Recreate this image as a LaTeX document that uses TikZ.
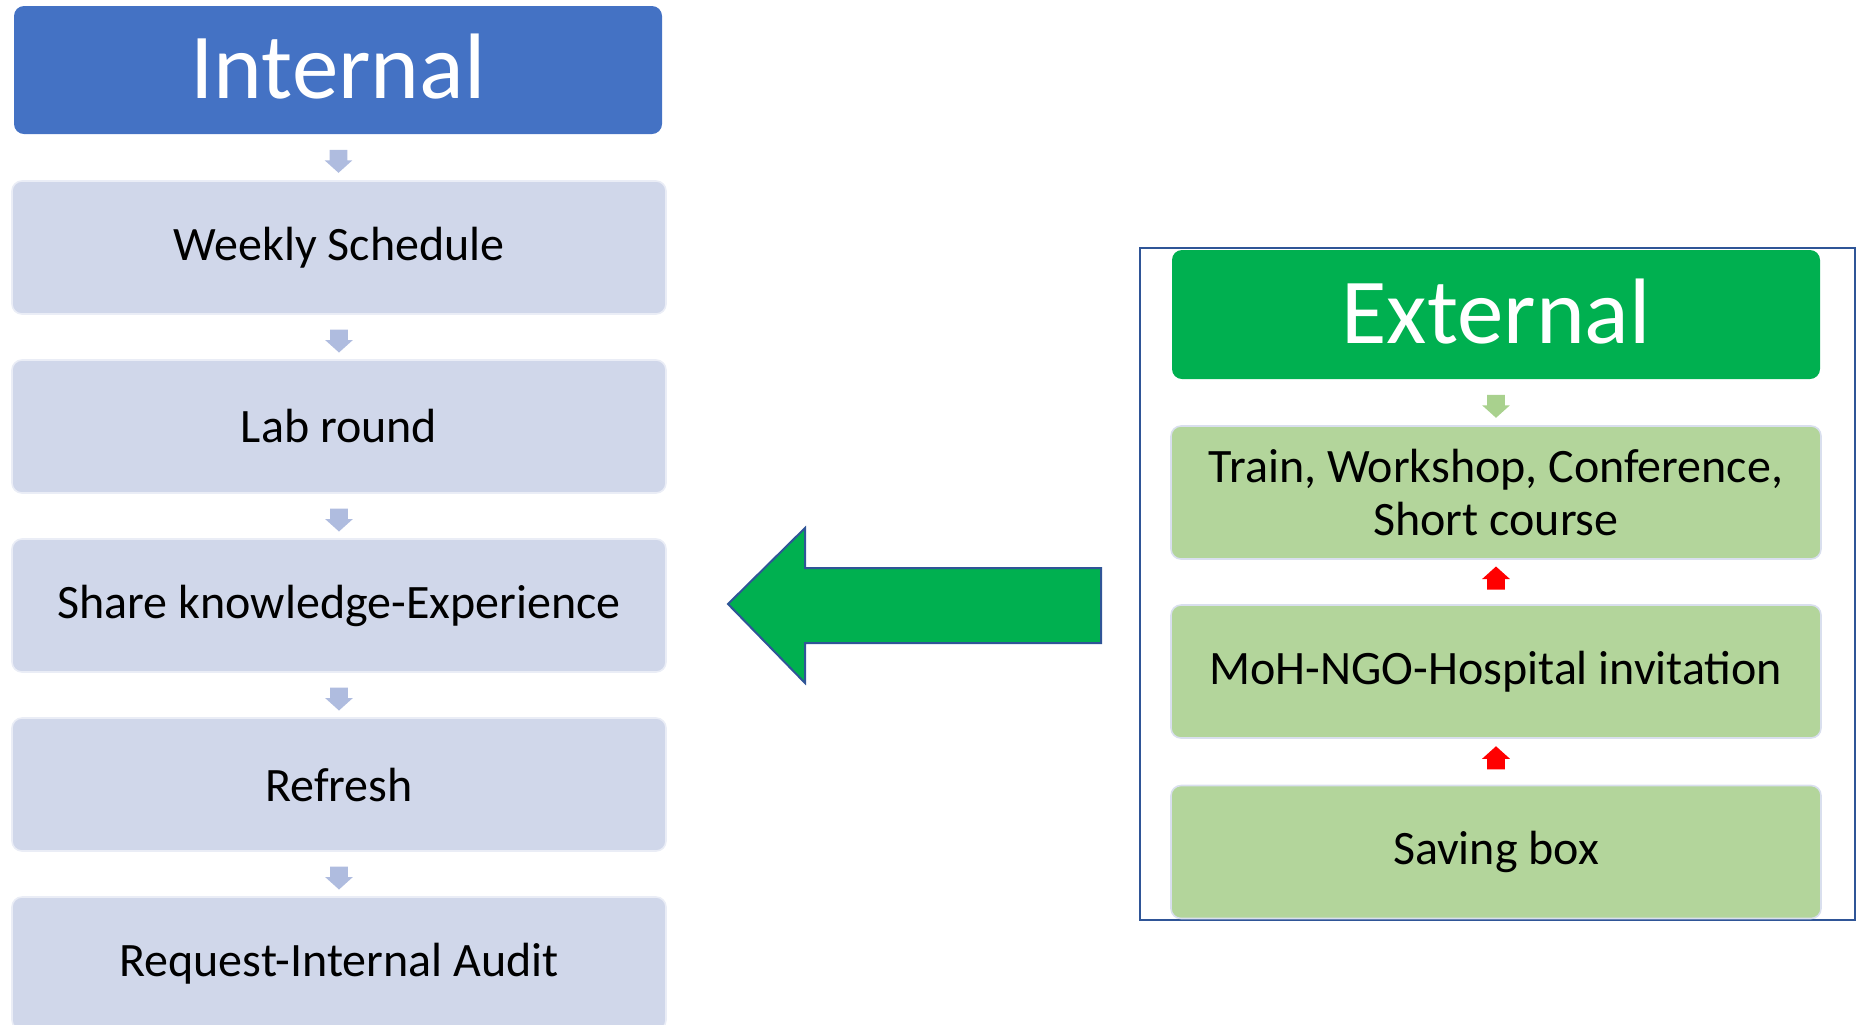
\documentclass[tikz,border=0pt]{standalone}
\usepackage{fontspec}
\setmainfont{Carlito}
\usepackage{tikz}
\usetikzlibrary{calc}
\usetikzlibrary{shapes.arrows}
\definecolor{inblue}{HTML}{4472C4}
\definecolor{inlight}{HTML}{D0D7EA}
\definecolor{inarrow}{HTML}{AFBCDF}
\definecolor{exgreen}{HTML}{00B050}
\definecolor{exlight}{HTML}{B3D59B}
\definecolor{exarrow}{HTML}{A9D18E}
\definecolor{frameblue}{HTML}{2F5597}

\tikzset{
	headbox/.style={rectangle, rounded corners=5pt, minimum width=324pt, minimum height=64pt,
		text depth=3.5pt, text=white, font=\fontsize{46.5}{52}\selectfont},
	itembox/.style={rectangle, rounded corners=5pt, minimum height=66.5pt, line width=0.8pt,
		align=center, font=\fontsize{24}{26.5}\selectfont},
	smallarr/.style={single arrow, minimum height=11.5pt, inner xsep=0pt, inner ysep=4.25pt,
		single arrow head extend=2.5pt, single arrow tip angle=96, draw=none}
}

\begin{document}
\begin{tikzpicture}[x=0.5pt, y=-0.5pt]
	\useasboundingbox (0,0) rectangle (1858,1024);

	% internal column
	\node[headbox, fill=inblue] (in0) at (338,70) {Internal};
	\foreach \i/\t in {1/Weekly Schedule, 2/Lab round, 3/Share knowledge-Experience,
		4/Refresh, 5/Request-Internal Audit}
	\node[itembox, minimum width=327pt, fill=inlight, draw=white!55!inlight] (in\i)
		at (339, 247.5 + 179*\i - 179) {\t};
	\foreach \i [evaluate=\i as \j using int(\i+1)] in {0,...,4}
	\node[smallarr, fill=inarrow, rotate=-90] (ia\i) at ($(in\i.south)!0.5!(in\j.north)$) {};

	% external group
	\draw[frameblue, line width=1pt] (1140,248) rectangle (1855,920);
	\node[headbox, fill=exgreen, minimum height=64.5pt] (ex0) at (1496,314.5) {External};
	\node[itembox, minimum width=325pt, fill=exlight, draw=inlight!80!white] (ex1) at (1496,492.5)
		{Train, Workshop, Conference,\\Short course};
	\node[itembox, minimum width=325pt, fill=exlight, draw=inlight!80!white] (ex2) at (1496,671.5)
		{MoH-NGO-Hospital invitation};
	\node[itembox, minimum width=325pt, fill=exlight, draw=inlight!80!white] (ex3) at (1496,852)
		{Saving box};
	\node[smallarr, fill=exarrow, rotate=-90] (ea0) at ($(ex0.south)!0.5!(ex1.north)$) {};
	\node[smallarr, fill=red, rotate=90] (ea1) at ($(ex1.south)!0.5!(ex2.north)$) {};
	\node[smallarr, fill=red, rotate=90] (ea2) at ($(ex2.south)!0.5!(ex3.north)$) {};

	% big arrow
	\draw[fill=exgreen, draw=frameblue, line width=1pt]
		(728,604) -- (805,528) -- (805,568) -- (1101,568) -- (1101,643)
		-- (805,643) -- (805,683) -- cycle;
\end{tikzpicture}
\end{document}
